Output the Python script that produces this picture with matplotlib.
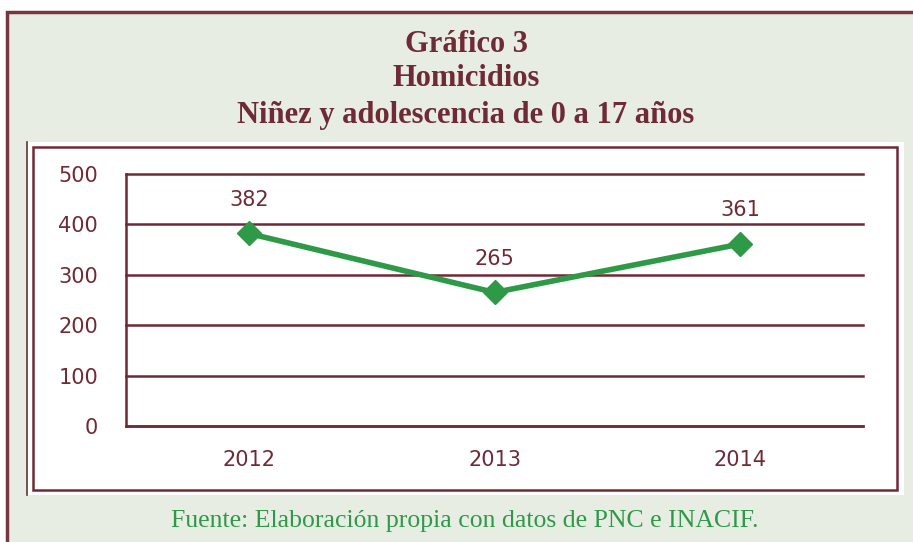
import matplotlib.pyplot as plt
import matplotlib.patches as mpatches

years = ['2012', '2013', '2014']
homicidios = [382, 265, 361]
y_ticks = [0, 100, 200, 300, 400, 500]

_maroon = '#6E2B36'
_green = '#2E9A48'
_bg = '#E8EDE3'

W, H = 913, 542


def px(x, y):
    # pixel (top-left origin) -> figure fraction
    return x / W, 1 - y / H


fig = plt.figure(figsize=(W / 100, H / 100), dpi=100)
fig.patch.set_facecolor('white')

# outer light-green box with maroon border
x0, y0 = px(7, 12)
fig.patches.append(mpatches.Rectangle((x0, -0.05), 1.05 - x0, y0 + 0.05, transform=fig.transFigure,
                                      facecolor=_bg, edgecolor='#7A3540', linewidth=2.5, zorder=0))
# white panel
x1, y1 = px(27, 495)
x2, y2 = px(904, 142)
fig.patches.append(mpatches.Rectangle((x1, y1), x2 - x1, y2 - y1, transform=fig.transFigure,
                                      facecolor='white', edgecolor='none', zorder=1))
fig.add_artist(plt.Line2D([x1, x1], [y1, y2], transform=fig.transFigure, color='#5A3A30', lw=1.2))
# inner maroon frame
x1, y1 = px(33, 490)
x2, y2 = px(897, 147)
fig.patches.append(mpatches.Rectangle((x1, y1), x2 - x1, y2 - y1, transform=fig.transFigure,
                                      facecolor='none', edgecolor=_maroon, linewidth=1.8, zorder=2))

# axes
ax_l, ax_b = px(126, 426)
ax_r, ax_t = px(863, 174)
ax = fig.add_axes([ax_l, ax_b, ax_r - ax_l, ax_t - ax_b])
ax.set_facecolor('none')
ax.set_zorder(5)

x = range(len(years))
ax.plot(x, homicidios, color=_green, lw=4, marker='D', markersize=12, zorder=3)
for xi, v in zip(x, homicidios):
    ax.annotate(str(v), (xi, v), xytext=(0, 17), textcoords='offset points', ha='center', va='bottom',
                fontsize=15, color=_maroon)

ax.set_xlim(-0.5, 2.5)
ax.set_ylim(0, 500)
ax.set_yticks(y_ticks)
ax.set_xticks(list(x))
ax.set_xticklabels(years)
ax.tick_params(length=0, labelsize=15, labelcolor=_maroon)
ax.tick_params(axis='y', pad=20)
ax.tick_params(axis='x', pad=17)
ax.grid(axis='y', color=_maroon, lw=1.8)
for _gl in ax.get_ygridlines():
    _gl.set_clip_on(False)
for s in ['top', 'right']:
    ax.spines[s].set_visible(False)
for s in ['left', 'bottom']:
    ax.spines[s].set_color(_maroon)
    ax.spines[s].set_linewidth(1.8)

# titles
for _txt, _y in [('Gráfico 3', 45), ('Homicidios', 79), ('Niñez y adolescencia de 0 a 17 años', 115)]:
    fig.text(*px(466, _y), _txt, ha='center', va='center', fontsize=22, fontweight='bold',
             family='Liberation Serif', color=_maroon)

fig.text(*px(465, 521), 'Fuente: Elaboración propia con datos de PNC e INACIF.', ha='center', va='center',
         fontsize=18.5, family='Liberation Serif', color=_green)

fig.savefig('out.png', dpi=100, facecolor=fig.get_facecolor())
